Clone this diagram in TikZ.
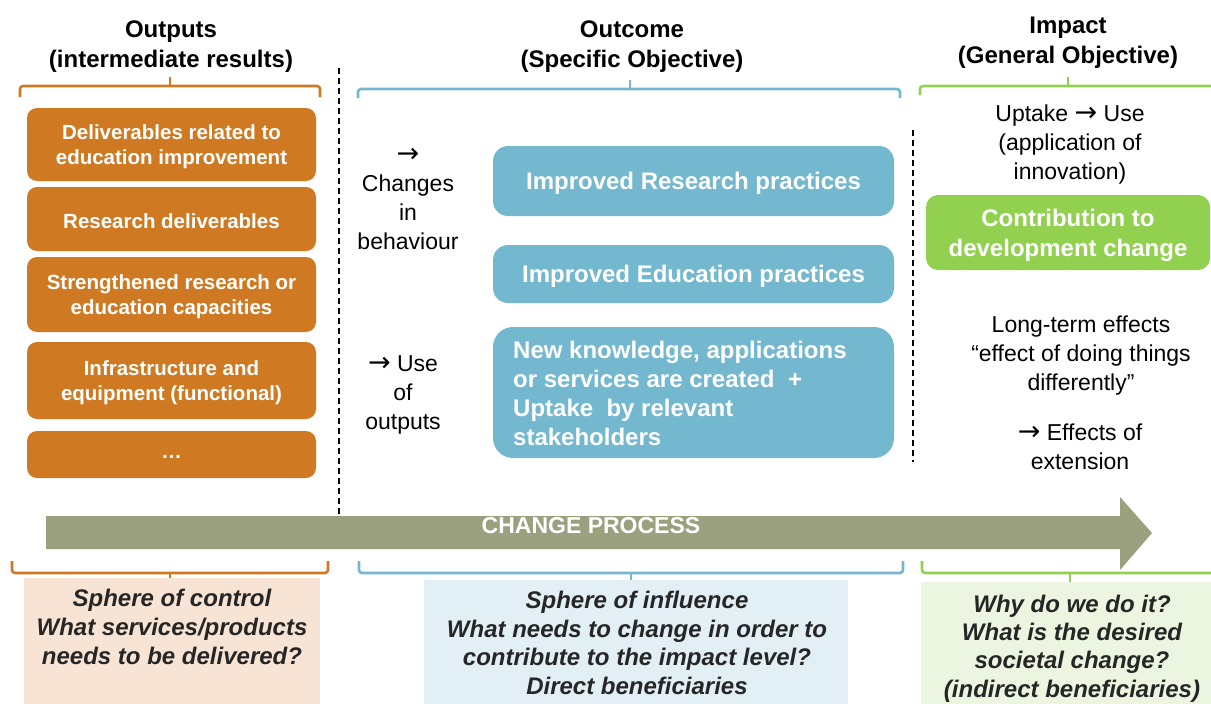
\documentclass[tikz,border=0pt]{standalone}
\usepackage{fontspec}
\setmainfont{Liberation Sans}
\newfontfamily\arrfont{DejaVu Sans}
\newcommand{\myarr}{{\arrfont\fontsize{27}{29}\selectfont →}}
\definecolor{orangeC}{RGB}{207,122,35}
\definecolor{blueC}{RGB}{116,184,208}
\definecolor{greenC}{RGB}{146,208,80}
\definecolor{arrowC}{RGB}{155,160,126}
\definecolor{orangeL}{RGB}{248,228,212}
\definecolor{blueL}{RGB}{226,239,245}
\definecolor{greenL}{RGB}{235,245,223}
\definecolor{darktext}{RGB}{38,38,38}
\tikzset{
  hdr/.style={align=center, font=\fontsize{24}{30}\selectfont\bfseries, inner sep=0pt, yshift=-4pt},
  body/.style={align=center, font=\fontsize{23}{29}\selectfont, inner sep=0pt, yshift=-3pt},
  obox/.style={fill=orangeC, rounded corners=10pt, minimum width=289pt, inner sep=0pt},
  otext/.style={text=white, align=center, font=\fontsize{20.5}{25}\selectfont\bfseries, inner sep=0pt, yshift=-2pt},
  bbox/.style={fill=blueC, rounded corners=15pt, minimum width=401pt, inner sep=0pt},
  btext/.style={text=white, align=center, font=\fontsize{24}{29}\selectfont\bfseries, inner sep=0pt, yshift=-2pt},
  gbox/.style={fill=greenC, rounded corners=12pt, minimum width=284pt, minimum height=75pt, inner sep=0pt},
  lbox/.style={align=center, text=darktext, font=\fontsize{24}{29}\selectfont\bfseries\itshape, inner sep=0pt, yshift=-2pt},
  brk/.style={line width=2.6pt, rounded corners=3pt},
  vdash/.style={dashed, line width=1.1pt, dash pattern=on 6pt off 4pt}
}
\begin{document}
\begin{tikzpicture}[x=1pt,y=-1pt]
\useasboundingbox (0,0) rectangle (1211,704);
% headers
\node[hdr] (h1) at (171,43) {Outputs\\(intermediate results)};
\node[hdr] (h2) at (632,43) {Outcome\\(Specific Objective)};
\node[hdr] (h3) at (1068,39) {Impact\\(General Objective)};
% top brackets
\draw[brk, orangeC] (20,97) -- (20,86) -- (320,86) -- (320,97);
\draw[brk, orangeC] (170,87) -- (170,77);
\draw[brk, blueC] (358,98) -- (358,89) -- (900,89) -- (900,98);
\draw[brk, blueC] (630,90) -- (630,80);
\draw[brk, greenC] (920,95) -- (920,86) -- (1215,86);
\draw[brk, greenC] (1068,87) -- (1068,77);
% dashed lines
\draw[vdash] (339,68) -- (339,516);
\draw[vdash] (913,130) -- (913,462);
% orange boxes
\node[obox, minimum height=73pt] (o1) at (171.5,144.5) {};
\node[otext] (o1t) at (o1.center) {Deliverables related to\\education improvement};
\node[obox, minimum height=64pt] (o2) at (171.5,219) {};
\node[otext] (o2t) at (o2.center) {Research deliverables};
\node[obox, minimum height=75pt] (o3) at (171.5,294.5) {};
\node[otext] (o3t) at (o3.center) {Strengthened research or\\education capacities};
\node[obox, minimum height=77pt] (o4) at (171.5,380.5) {};
\node[otext] (o4t) at (o4.center) {Infrastructure and\\equipment (functional)};
\node[obox, minimum height=47pt] (o5) at (171.5,454.5) {};
\node[otext] (o5t) at (o5.center) {\dots};
% middle texts
\node[body] (t1) at (408,196) {\myarr\\Changes\\in\\behaviour};
\node[body] (t2) at (403,392) {\myarr{} Use\\of\\outputs};
% blue boxes
\node[bbox, minimum height=70pt] (b1) at (693.5,181) {};
\node[btext] (b1t) at (b1.center) {Improved Research practices};
\node[bbox, minimum height=58pt] (b2) at (693.5,274) {};
\node[btext] (b2t) at (b2.center) {Improved Education practices};
\node[bbox, minimum height=131pt, rounded corners=20pt] (b3) at (693.5,392.5) {};
\node[btext, anchor=west, align=left, yshift=2pt] (b3t) at (513,393)
  {New knowledge, applications\\or services are created \ +\\Uptake \ by relevant\\stakeholders};
% right texts
\node[body] (r1) at (1070,142) {Uptake \myarr{} Use\\(application of\\innovation)};
\node[gbox] (g1) at (1068,232.5) {};
\node[btext, font=\fontsize{24}{30}\selectfont\bfseries, yshift=-1pt] (g1t) at (g1.center) {Contribution to\\development change};
\node[body] (r2) at (1081,353) {Long-term effects\\“effect of doing things\\differently”};
\node[body] (r3) at (1080,444) {\myarr{} Effects of\\extension};
% change process arrow
\fill[arrowC] (46,516) -- (1120,516) -- (1120,497) -- (1152,533) -- (1120,570) -- (1120,549) -- (46,549) -- cycle;
\node[text=white, font=\fontsize{23}{26}\selectfont\bfseries, inner sep=0pt] (cp) at (591,526) {CHANGE PROCESS};
% bottom brackets
\draw[brk, orangeC] (12,561) -- (12,573) -- (328,573) -- (328,561);
\draw[brk, orangeC] (170,572) -- (170,586);
\draw[brk, blueC] (359,561) -- (359,573) -- (903,573) -- (903,561);
\draw[brk, blueC] (631,572) -- (631,587);
\draw[brk, greenC] (922,561) -- (922,573) -- (1215,573);
\draw[brk, greenC] (1070,572) -- (1070,587);
% bottom boxes
\fill[orangeL] (24,578) rectangle (320,704);
\fill[blueL] (424,580) rectangle (848,704);
\fill[greenL] (921,582) rectangle (1211,704);
\node[lbox] (l1) at (172,625) {Sphere of control\\What services/products\\needs to be delivered?};
\node[lbox, font=\fontsize{24}{28.7}\selectfont\bfseries\itshape] (l2) at (637,641) {Sphere of influence\\What needs to change in order to\\contribute to the impact level?\\Direct beneficiaries};
\node[lbox, font=\fontsize{24}{28.3}\selectfont\bfseries\itshape] (l3) at (1072,646.5) {Why do we do it?\\What is the desired\\societal change?\\(indirect beneficiaries)};
\end{tikzpicture}
\end{document}
